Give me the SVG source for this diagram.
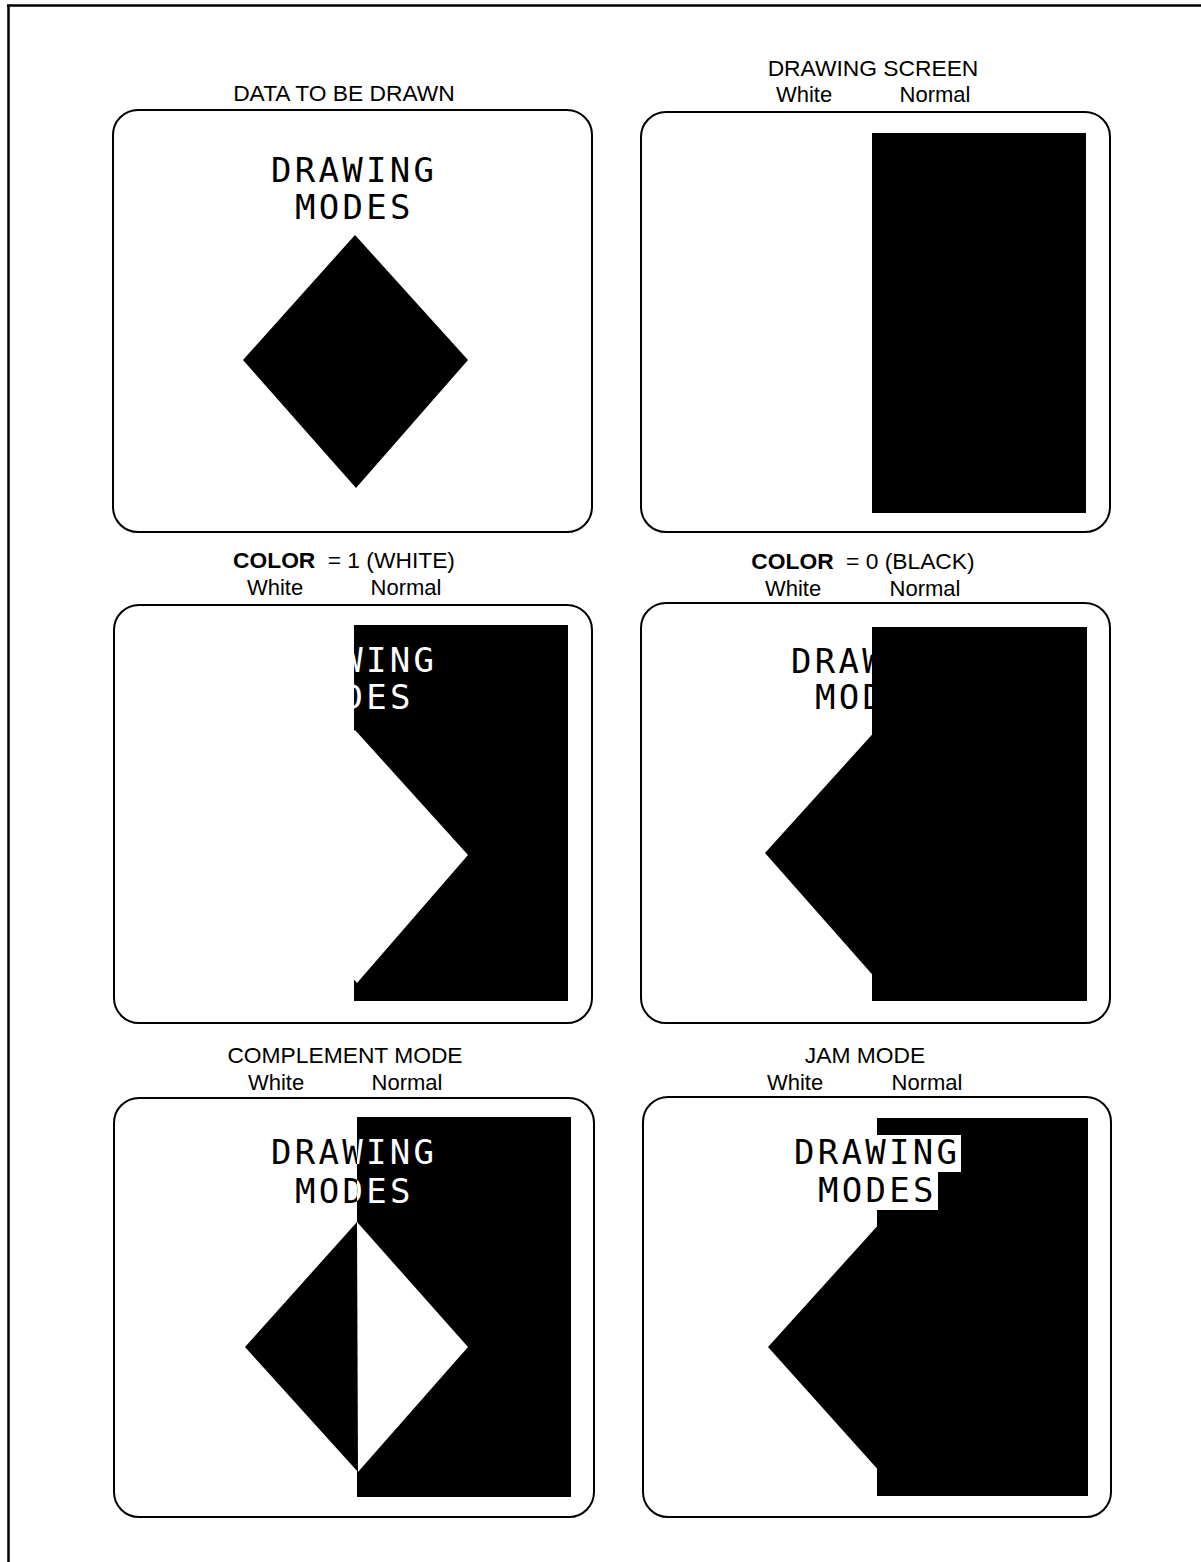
<svg xmlns="http://www.w3.org/2000/svg" width="1201" height="1562" viewBox="0 0 1201 1562">
<defs>
<style>
.box{fill:none;stroke:#000;stroke-width:2}
.lbl{font-family:"Liberation Sans",Arial,sans-serif;font-size:22px;text-anchor:middle;fill:#000}
.ttl{font-size:22.8px}
.b{font-weight:bold}
.scr{font-family:"DejaVu Sans Mono",monospace;font-size:34px;letter-spacing:3.3px}
.blk{fill:#000}
.wht{fill:#fff}
</style>
<clipPath id="cl5"><rect x="0" y="1098" width="357" height="420"/></clipPath>
<clipPath id="cr5"><rect x="357" y="1098" width="300" height="420"/></clipPath>
<clipPath id="c3"><rect x="354" y="625" width="214" height="100"/></clipPath>
<clipPath id="c4"><rect x="641" y="603" width="231" height="130"/></clipPath>
</defs>
<rect x="0" y="0" width="1201" height="1562" fill="#fff"/>
<g id="page-border" stroke="#000" stroke-width="2.5" fill="none">
<line x1="7" y1="5.5" x2="1201" y2="5.5"/>
<line x1="8.5" y1="5" x2="8.5" y2="1562"/>
</g>

<g id="panel-data">
<text class="lbl ttl" x="344" y="101">DATA TO BE DRAWN</text>
<rect class="box" x="113" y="110" width="479" height="422" rx="25"/>
<text class="scr blk" x="271" y="182">DRAWING</text>
<text class="scr blk" x="295" y="219">MODES</text>
<polygon class="blk" points="355,235 468,360 356,488 243,360"/>
</g>

<g id="panel-screen">
<text class="lbl ttl" x="873" y="76">DRAWING SCREEN</text>
<text class="lbl" x="804" y="102">White</text>
<text class="lbl" x="935" y="102">Normal</text>
<rect class="box" x="641" y="112" width="469" height="420" rx="25"/>
<rect class="blk" x="872" y="133" width="214" height="380"/>
</g>

<g id="panel-color1">
<text class="lbl ttl" x="344" y="568"><tspan class="b">COLOR</tspan><tspan dx="6"> = 1 (WHITE)</tspan></text>
<text class="lbl" x="275" y="595">White</text>
<text class="lbl" x="406" y="595">Normal</text>
<rect class="box" x="114" y="605" width="478" height="418" rx="25"/>
<rect class="blk" x="354" y="625" width="214" height="376"/>
<polygon class="wht" points="355,730 468,855 357,983 243,855"/>
<g clip-path="url(#c3)">
<text class="scr wht" x="271" y="672">DRAWING</text>
<text class="scr wht" x="295" y="709">MODES</text>
</g>
</g>

<g id="panel-color0">
<text class="lbl ttl" x="863" y="569"><tspan class="b">COLOR</tspan><tspan dx="6"> = 0 (BLACK)</tspan></text>
<text class="lbl" x="793" y="596">White</text>
<text class="lbl" x="925" y="596">Normal</text>
<rect class="box" x="641" y="603" width="469" height="420" rx="25"/>
<rect class="blk" x="872" y="627" width="215" height="374"/>
<polygon class="blk" points="878,728 991,853 878,981 765,853"/>
<g clip-path="url(#c4)">
<text class="scr blk" x="791" y="673">DRAWING</text>
<text class="scr blk" x="815" y="709">MODES</text>
</g>
</g>

<g id="panel-complement">
<text class="lbl ttl" x="345" y="1063">COMPLEMENT MODE</text>
<text class="lbl" x="276" y="1090">White</text>
<text class="lbl" x="407" y="1090">Normal</text>
<rect class="box" x="114" y="1098" width="480" height="419" rx="25"/>
<rect class="blk" x="357" y="1117" width="214" height="380"/>
<polygon class="blk" points="357,1222 245,1347 358,1472"/>
<polygon class="wht" points="357,1222 468,1347 358,1472"/>
<g clip-path="url(#cl5)">
<text class="scr blk" x="271" y="1164">DRAWING</text>
<text class="scr blk" x="295" y="1203">MODES</text>
</g>
<g clip-path="url(#cr5)">
<text class="scr wht" x="271" y="1164">DRAWING</text>
<text class="scr wht" x="295" y="1203">MODES</text>
</g>
</g>

<g id="panel-jam">
<text class="lbl ttl" x="865" y="1063">JAM MODE</text>
<text class="lbl" x="795" y="1090">White</text>
<text class="lbl" x="927" y="1090">Normal</text>
<rect class="box" x="643" y="1097" width="468" height="420" rx="25"/>
<rect class="blk" x="877" y="1118" width="211" height="378"/>
<rect class="wht" x="877" y="1135" width="84" height="37"/>
<rect class="wht" x="877" y="1171" width="61" height="39"/>
<text class="scr blk" x="794" y="1164">DRAWING</text>
<text class="scr blk" x="818" y="1202">MODES</text>
<polygon class="blk" points="881,1222 994,1347 881,1473 768,1347"/>
</g>
</svg>
